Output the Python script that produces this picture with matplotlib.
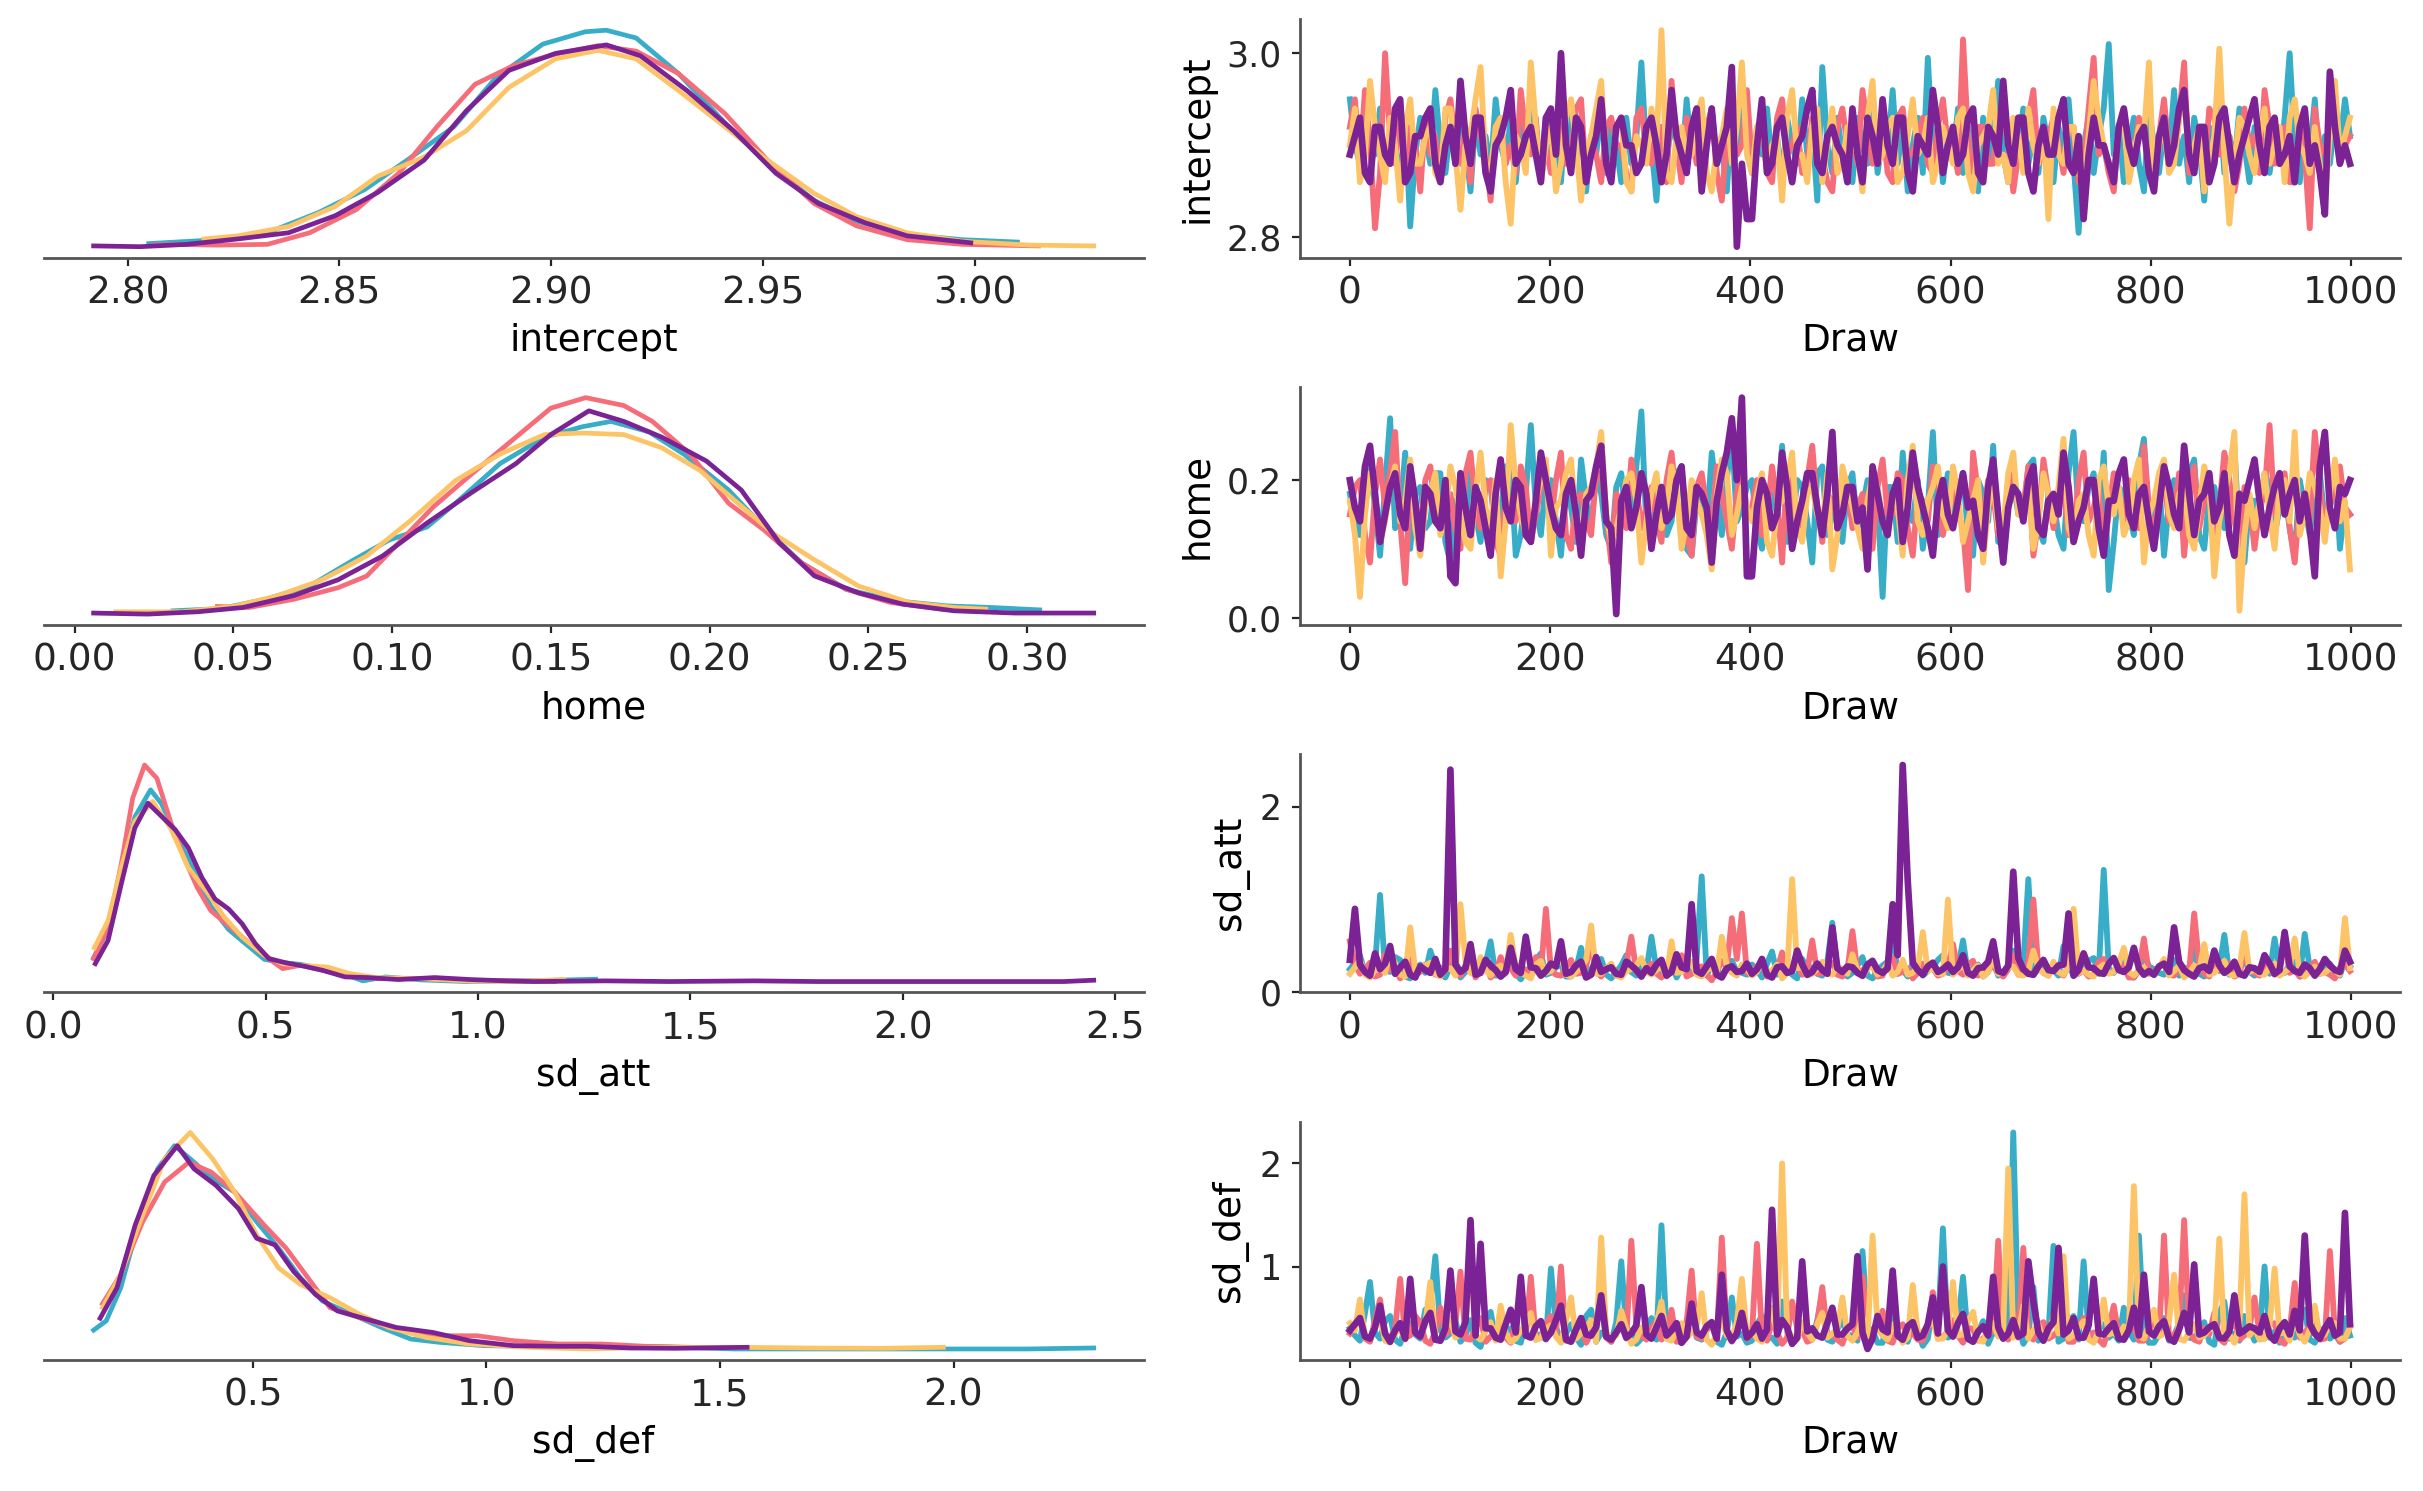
import numpy as np
import matplotlib.pyplot as plt
from matplotlib.ticker import MaxNLocator

# chain colours (chain 0..3)
chain_colors = ["#38adc8", "#f66d7a", "#fcc466", "#7b2394"]
var_names = ["intercept", "home", "sd_att", "sd_def"]
trace_yticks = [[2.8, 3.0], [0.0, 0.2], [0, 2], [1, 2]]

# ---- KDE curves (x, density) per chain ----
int_kde_x0 = [2.805, 2.821, 2.833, 2.845, 2.856, 2.866, 2.877, 2.887, 2.898, 2.908, 2.913, 2.920, 2.930, 2.941, 2.951, 2.962, 2.972, 2.984, 2.997, 3.010]
int_kde_y0 = [0.2, 0.45, 0.9, 2.2, 3.7, 5.6, 7.75, 10.95, 13.1, 13.9, 14.0, 13.5, 11.2, 8.0, 5.4, 3.0, 1.65, 0.8, 0.45, 0.3]
int_kde_x1 = [2.806, 2.812, 2.821, 2.833, 2.843, 2.854, 2.864, 2.873, 2.882, 2.891, 2.901, 2.911, 2.920, 2.930, 2.941, 2.951, 2.962, 2.972, 2.984, 2.997, 3.015]
int_kde_y1 = [0.1, 0.15, 0.1, 0.15, 0.9, 2.4, 4.75, 7.75, 10.5, 11.7, 12.45, 13.0, 12.65, 11.2, 8.6, 5.6, 2.8, 1.35, 0.45, 0.15, 0.05]
int_kde_x2 = [2.818, 2.826, 2.838, 2.849, 2.859, 2.870, 2.880, 2.890, 2.901, 2.911, 2.920, 2.930, 2.941, 2.951, 2.962, 2.972, 2.984, 2.997, 3.013, 3.028]
int_kde_y2 = [0.5, 0.7, 1.3, 2.6, 4.55, 5.8, 7.5, 10.3, 12.15, 12.7, 12.15, 10.1, 7.75, 5.6, 3.45, 1.95, 0.9, 0.35, 0.1, 0.05]
int_kde_x3 = [2.792, 2.803, 2.814, 2.826, 2.838, 2.849, 2.859, 2.870, 2.880, 2.890, 2.901, 2.913, 2.921, 2.932, 2.943, 2.953, 2.963, 2.974, 2.984, 2.999]
int_kde_y3 = [0.05, 0.0, 0.15, 0.5, 0.9, 2.0, 3.5, 5.6, 8.8, 11.4, 12.5, 13.05, 12.35, 10.1, 7.5, 4.75, 2.8, 1.55, 0.7, 0.25]

home_kde_x0 = [0.031, 0.046, 0.060, 0.074, 0.088, 0.099, 0.111, 0.120, 0.134, 0.148, 0.160, 0.169, 0.181, 0.192, 0.206, 0.217, 0.229, 0.243, 0.259, 0.275, 0.289, 0.304]
home_kde_y0 = [0.125, 0.21, 0.56, 1.06, 2.06, 2.8, 3.3, 4.2, 5.7, 6.7, 7.1, 7.3, 6.9, 6.05, 4.7, 3.3, 1.94, 0.94, 0.5, 0.31, 0.25, 0.16]
home_kde_x1 = [0.045, 0.055, 0.069, 0.083, 0.092, 0.101, 0.113, 0.125, 0.139, 0.150, 0.161, 0.173, 0.182, 0.194, 0.206, 0.217, 0.229, 0.243, 0.257, 0.273, 0.287]
home_kde_y1 = [0.29, 0.25, 0.56, 1.0, 1.44, 2.56, 4.06, 5.3, 6.7, 7.8, 8.2, 7.9, 7.3, 6.05, 4.2, 3.2, 1.94, 0.94, 0.44, 0.19, 0.09]
home_kde_x2 = [0.013, 0.034, 0.050, 0.064, 0.078, 0.092, 0.106, 0.120, 0.134, 0.148, 0.160, 0.173, 0.185, 0.197, 0.208, 0.220, 0.233, 0.247, 0.263, 0.277, 0.287]
home_kde_y2 = [0.09, 0.09, 0.29, 0.7, 1.3, 2.2, 3.56, 5.06, 6.06, 6.8, 6.86, 6.8, 6.3, 5.44, 4.3, 3.06, 2.06, 1.06, 0.44, 0.25, 0.19]
home_kde_x3 = [0.006, 0.023, 0.039, 0.053, 0.069, 0.083, 0.097, 0.111, 0.125, 0.139, 0.150, 0.162, 0.173, 0.185, 0.199, 0.210, 0.222, 0.233, 0.247, 0.261, 0.277, 0.296, 0.321]
home_kde_y3 = [0.04, 0.0, 0.09, 0.25, 0.7, 1.3, 2.2, 3.45, 4.6, 5.7, 6.8, 7.7, 7.3, 6.7, 5.8, 4.7, 2.7, 1.45, 0.8, 0.375, 0.125, 0.04, 0.04]

att_kde_x0 = [0.095, 0.129, 0.160, 0.192, 0.229, 0.255, 0.287, 0.329, 0.371, 0.413, 0.455, 0.497, 0.540, 0.582, 0.634, 0.687, 0.729, 0.782, 0.866, 0.972, 1.077, 1.180, 1.277]
att_kde_y0 = [0.75, 1.6, 3.3, 5.0, 5.82, 5.4, 4.5, 3.5, 2.3, 1.6, 1.15, 0.7, 0.6, 0.55, 0.42, 0.25, 0.05, 0.17, 0.08, 0.03, 0.05, 0.07, 0.1]
att_kde_x1 = [0.095, 0.129, 0.160, 0.187, 0.215, 0.244, 0.276, 0.308, 0.339, 0.371, 0.413, 0.455, 0.497, 0.540, 0.582, 0.634, 0.687, 0.761, 0.866, 0.972, 1.077, 1.180]
att_kde_y1 = [0.72, 1.67, 3.57, 5.57, 6.57, 6.17, 4.87, 3.77, 2.87, 2.17, 1.72, 1.27, 0.82, 0.42, 0.52, 0.37, 0.22, 0.12, 0.12, 0.07, 0.05, 0.03]
att_kde_x2 = [0.097, 0.129, 0.160, 0.192, 0.234, 0.276, 0.318, 0.360, 0.403, 0.445, 0.497, 0.540, 0.582, 0.645, 0.698, 0.761, 0.866, 0.972, 1.077, 1.203]
att_kde_y2 = [1.05, 1.87, 3.47, 4.87, 5.47, 4.67, 3.47, 2.77, 1.97, 1.37, 0.82, 0.57, 0.52, 0.47, 0.27, 0.15, 0.12, 0.05, 0.03, 0.09]
att_kde_x3 = [0.099, 0.129, 0.160, 0.192, 0.223, 0.255, 0.287, 0.318, 0.350, 0.381, 0.413, 0.445, 0.476, 0.508, 0.550, 0.592, 0.634, 0.687, 0.740, 0.813, 0.898, 0.982, 1.066, 1.130, 1.30, 1.45, 1.65, 1.80, 2.00, 2.20, 2.38, 2.45]
att_kde_y3 = [0.57, 1.27, 2.97, 4.67, 5.42, 5.02, 4.62, 4.07, 3.17, 2.52, 2.22, 1.77, 1.17, 0.72, 0.59, 0.49, 0.37, 0.17, 0.15, 0.09, 0.15, 0.09, 0.05, 0.03, 0.05, 0.03, 0.05, 0.03, 0.03, 0.03, 0.03, 0.07]

def_kde_x0 = [0.159, 0.186, 0.217, 0.256, 0.296, 0.332, 0.366, 0.414, 0.461, 0.508, 0.555, 0.602, 0.649, 0.712, 0.775, 0.838, 0.900, 0.995, 1.090, 1.215, 1.370, 1.530, 1.770, 2.000, 2.160, 2.300]
def_kde_y0 = [0.285, 0.425, 0.925, 1.925, 2.725, 3.075, 2.875, 2.575, 2.375, 1.925, 1.525, 1.075, 0.725, 0.525, 0.325, 0.15, 0.1, 0.05, 0.04, 0.025, 0.035, 0.0, 0.0, 0.0, 0.0, 0.015]
def_kde_x1 = [0.178, 0.217, 0.264, 0.311, 0.363, 0.411, 0.461, 0.524, 0.571, 0.618, 0.665, 0.728, 0.807, 0.900, 0.980, 1.058, 1.153, 1.247, 1.342, 1.436]
def_kde_y1 = [0.685, 1.125, 1.925, 2.525, 2.825, 2.675, 2.375, 1.875, 1.525, 1.075, 0.625, 0.475, 0.3, 0.2, 0.2, 0.125, 0.075, 0.075, 0.04, 0.025]
def_kde_x2 = [0.178, 0.217, 0.264, 0.311, 0.366, 0.414, 0.461, 0.508, 0.555, 0.602, 0.665, 0.728, 0.791, 0.870, 0.964, 1.090, 1.215, 1.373, 1.530, 1.687, 1.845, 1.978]
def_kde_y2 = [0.625, 1.125, 2.025, 2.875, 3.275, 2.875, 2.375, 1.725, 1.225, 0.975, 0.775, 0.525, 0.325, 0.175, 0.075, 0.025, 0.0, 0.025, 0.025, 0.015, 0.01, 0.025]
def_kde_x3 = [0.173, 0.209, 0.248, 0.288, 0.338, 0.374, 0.421, 0.469, 0.508, 0.547, 0.587, 0.634, 0.681, 0.744, 0.807, 0.885, 0.964, 1.058, 1.153, 1.216, 1.310, 1.404, 1.558]
def_kde_y3 = [0.465, 0.925, 1.875, 2.625, 3.075, 2.725, 2.475, 2.125, 1.675, 1.575, 1.175, 0.825, 0.575, 0.45, 0.325, 0.25, 0.125, 0.05, 0.04, 0.04, 0.015, 0.01, 0.025]

# ---- traces, 200 values per chain across 1000 draws ----
int_trace0 = [
    2.95, 2.90, 2.88, 2.93, 2.91, 2.89, 2.94, 2.87, 2.92, 2.90, 2.86, 2.93, 2.812, 2.89, 2.93, 2.91, 2.88, 2.96, 2.90, 2.87,
    2.92, 2.88, 2.94, 2.90, 2.85, 2.93, 2.89, 2.91, 2.87, 2.95, 2.90, 2.88, 2.93, 2.86, 2.92, 2.89, 2.96, 2.91, 2.87, 2.93,
    2.89, 2.92, 2.86, 2.94, 2.90, 2.88, 2.93, 2.85, 2.91, 2.89, 2.94, 2.87, 2.92, 2.90, 2.86, 2.93, 2.88, 2.91, 2.99, 2.89,
    2.90, 2.84, 2.92, 2.88, 2.93, 2.90, 2.87, 2.95, 2.89, 2.92, 2.86, 2.91, 2.94, 2.88, 2.90, 2.85, 2.93, 2.89, 2.96, 2.90,
    2.87, 2.92, 2.89, 2.94, 2.88, 2.91, 2.86, 2.93, 2.90, 2.88, 2.95, 2.89, 2.92, 2.84, 2.985, 2.90, 2.87, 2.93, 2.89, 2.91,
    2.86, 2.93, 2.90, 2.88, 2.94, 2.87, 2.91, 2.89, 2.96, 2.88, 2.92, 2.85, 2.90, 2.93, 2.87, 2.995, 2.89, 2.92, 2.86, 2.91,
    2.89, 2.94, 2.87, 2.92, 2.90, 2.85, 2.93, 2.88, 2.91, 2.97, 2.89, 2.86, 2.92, 2.90, 2.94, 2.88, 2.91, 2.87, 2.93, 2.90,
    2.86, 2.92, 2.89, 2.95, 2.88, 2.805, 2.90, 2.93, 2.87, 2.91, 2.94, 3.01, 2.89, 2.92, 2.86, 2.90, 2.93, 2.88, 2.85, 2.94,
    2.90, 2.87, 2.92, 2.89, 2.96, 2.88, 2.91, 2.86, 2.93, 2.90, 2.84, 2.92, 2.89, 2.95, 2.87, 2.91, 2.88, 2.94, 2.90, 2.86,
    2.92, 2.89, 2.94, 2.87, 2.91, 2.88, 2.93, 3.00, 2.90, 2.86, 2.92, 2.89, 2.95, 2.87, 2.91, 2.88, 2.93, 2.90, 2.95, 2.91]
int_trace1 = [
    2.92, 2.95, 2.88, 2.96, 2.90, 2.81, 2.87, 3.00, 2.91, 2.88, 2.94, 2.87, 2.92, 2.90, 2.85, 2.93, 2.89, 2.91, 2.86, 2.93,
    2.95, 2.90, 2.88, 2.92, 2.86, 2.94, 2.91, 2.89, 2.84, 2.92, 2.93, 2.88, 2.90, 2.87, 2.96, 2.91, 2.89, 2.93, 2.86, 2.90,
    2.87, 2.93, 2.92, 2.88, 2.89, 2.94, 2.95, 2.86, 2.91, 2.89, 2.86, 2.92, 2.93, 2.90, 2.90, 2.87, 2.85, 2.93, 2.94, 2.89,
    2.88, 2.92, 2.92, 2.86, 2.97, 2.90, 2.86, 2.93, 2.91, 2.88, 2.89, 2.92, 2.94, 2.87, 2.84, 2.91, 2.93, 2.89, 2.90, 2.96,
    2.88, 2.91, 2.92, 2.87, 2.86, 2.93, 2.95, 2.89, 2.90, 2.92, 2.87, 2.88, 2.93, 2.91, 2.89, 2.86, 2.85, 2.92, 2.94, 2.90,
    2.91, 2.88, 2.96, 2.92, 2.88, 2.90, 2.92, 2.87, 2.86, 2.93, 2.94, 2.89, 2.89, 2.91, 2.93, 2.88, 2.87, 2.92, 2.95, 2.90,
    2.90, 2.87, 3.015, 2.91, 2.86, 2.92, 2.92, 2.88, 2.88, 2.93, 2.94, 2.90, 2.85, 2.89, 2.91, 2.93, 2.96, 2.88, 2.89, 2.91,
    2.93, 2.90, 2.87, 2.92, 2.92, 2.86, 2.88, 2.94, 2.995, 2.89, 2.90, 2.87, 2.85, 2.92, 2.94, 2.90, 2.89, 2.93, 2.92, 2.88,
    2.86, 2.91, 2.95, 2.89, 2.88, 2.93, 2.99, 2.87, 2.90, 2.92, 2.87, 2.94, 2.93, 2.89, 2.89, 2.91, 2.85, 2.88, 2.94, 2.90,
    2.91, 2.87, 2.96, 2.92, 2.88, 2.90, 2.92, 2.86, 2.86, 2.93, 2.89, 2.81, 2.94, 2.90, 2.89, 2.92, 2.93, 2.88, 2.90, 2.91]
int_trace2 = [
    2.90, 2.94, 2.86, 2.89, 2.97, 2.92, 2.89, 2.86, 2.93, 2.90, 2.84, 2.92, 2.95, 2.88, 2.88, 2.91, 2.92, 2.87, 2.86, 2.94,
    2.94, 2.89, 2.83, 2.90, 2.91, 2.95, 2.985, 2.88, 2.87, 2.92, 2.93, 2.86, 2.815, 2.91, 2.90, 2.87, 2.99, 2.92, 2.86, 2.90,
    2.92, 2.85, 2.88, 2.93, 2.95, 2.90, 2.84, 2.89, 2.91, 2.94, 2.97, 2.88, 2.87, 2.92, 2.93, 2.86, 2.85, 2.91, 2.90, 2.88,
    2.94, 2.90, 3.025, 2.87, 2.86, 2.91, 2.92, 2.89, 2.89, 2.93, 2.95, 2.87, 2.85, 2.90, 2.91, 2.94, 2.88, 2.92, 2.99, 2.89,
    2.87, 2.92, 2.93, 2.88, 2.90, 2.91, 2.84, 2.93, 2.96, 2.89, 2.89, 2.86, 2.92, 2.94, 2.86, 2.90, 2.94, 2.87, 2.88, 2.92,
    2.91, 2.89, 2.85, 2.93, 2.97, 2.88, 2.89, 2.92, 2.93, 2.86, 2.87, 2.91, 2.95, 2.89, 2.90, 2.93, 2.86, 2.88, 2.92, 2.90,
    2.88, 2.93, 2.94, 2.87, 2.85, 2.90, 2.91, 2.92, 2.96, 2.88, 2.89, 2.86, 2.93, 2.91, 2.87, 2.94, 2.90, 2.88, 2.92, 2.82,
    2.94, 2.89, 2.88, 2.92, 2.92, 2.87, 2.86, 2.91, 2.97, 2.93, 2.90, 2.88, 2.87, 2.92, 2.93, 2.86, 2.89, 2.92, 2.91, 2.99,
    2.86, 2.90, 2.92, 2.87, 2.88, 2.93, 2.95, 2.89, 2.90, 2.92, 2.85, 2.88, 2.91, 3.005, 2.89, 2.815, 2.88, 2.93, 2.92, 2.89,
    2.87, 2.91, 2.94, 2.88, 2.90, 2.92, 2.86, 2.93, 2.95, 2.90, 2.89, 2.87, 2.92, 2.88, 2.84, 2.91, 2.97, 2.89, 2.91, 2.93]
int_trace3 = [
    2.89, 2.91, 2.93, 2.87, 2.86, 2.92, 2.92, 2.89, 2.88, 2.94, 2.95, 2.86, 2.87, 2.91, 2.91, 2.93, 2.94, 2.88, 2.86, 2.90,
    2.92, 2.88, 2.97, 2.91, 2.88, 2.93, 2.93, 2.87, 2.85, 2.90, 2.91, 2.93, 2.96, 2.88, 2.89, 2.91, 2.92, 2.89, 2.86, 2.93,
    2.94, 2.89, 3.00, 2.90, 2.87, 2.93, 2.92, 2.86, 2.89, 2.91, 2.95, 2.88, 2.86, 2.92, 2.93, 2.90, 2.90, 2.87, 2.88, 2.92,
    2.93, 2.90, 2.86, 2.89, 2.96, 2.91, 2.89, 2.87, 2.92, 2.94, 2.85, 2.90, 2.94, 2.88, 2.90, 2.92, 2.985, 2.79, 2.88, 2.82,
    2.82, 2.90, 2.95, 2.87, 2.88, 2.92, 2.93, 2.89, 2.86, 2.90, 2.91, 2.94, 2.96, 2.88, 2.87, 2.91, 2.92, 2.90, 2.89, 2.86,
    2.94, 2.89, 2.86, 2.93, 2.91, 2.88, 2.95, 2.90, 2.88, 2.93, 2.93, 2.87, 2.85, 2.91, 2.90, 2.89, 2.96, 2.92, 2.87, 2.90,
    2.92, 2.88, 2.89, 2.93, 2.94, 2.87, 2.86, 2.92, 2.91, 2.89, 2.97, 2.90, 2.88, 2.93, 2.93, 2.87, 2.85, 2.90, 2.92, 2.89,
    2.89, 2.93, 2.95, 2.88, 2.87, 2.91, 2.82, 2.89, 2.93, 2.90, 2.90, 2.88, 2.86, 2.92, 2.94, 2.90, 2.88, 2.91, 2.92, 2.87,
    2.85, 2.91, 2.93, 2.88, 2.90, 2.94, 2.96, 2.89, 2.87, 2.92, 2.92, 2.86, 2.88, 2.93, 2.94, 2.90, 2.86, 2.89, 2.91, 2.93,
    2.95, 2.90, 2.87, 2.92, 2.93, 2.88, 2.89, 2.91, 2.86, 2.92, 2.94, 2.88, 2.90, 2.87, 2.825, 2.98, 2.92, 2.88, 2.90, 2.88]

home_trace0 = [
    0.18, 0.14, 0.12, 0.20, 0.22, 0.16, 0.09, 0.19, 0.29, 0.13, 0.15, 0.24, 0.10, 0.18, 0.19, 0.13, 0.14, 0.21, 0.21, 0.11,
    0.08, 0.17, 0.17, 0.12, 0.23, 0.15, 0.11, 0.20, 0.19, 0.13, 0.15, 0.22, 0.22, 0.09, 0.12, 0.18, 0.28, 0.16, 0.12, 0.20,
    0.20, 0.14, 0.09, 0.19, 0.16, 0.11, 0.23, 0.17, 0.13, 0.21, 0.18, 0.12, 0.10, 0.19, 0.21, 0.14, 0.15, 0.22, 0.30, 0.13,
    0.11, 0.18, 0.19, 0.12, 0.14, 0.21, 0.22, 0.10, 0.09, 0.17, 0.17, 0.13, 0.24, 0.18, 0.12, 0.20, 0.27, 0.14, 0.16, 0.19,
    0.20, 0.13, 0.10, 0.18, 0.18, 0.15, 0.25, 0.11, 0.13, 0.20, 0.19, 0.14, 0.08, 0.21, 0.22, 0.12, 0.15, 0.17, 0.11, 0.19,
    0.21, 0.13, 0.16, 0.20, 0.12, 0.17, 0.03, 0.19, 0.19, 0.11, 0.24, 0.15, 0.14, 0.20, 0.10, 0.16, 0.27, 0.12, 0.17, 0.21,
    0.13, 0.18, 0.21, 0.12, 0.09, 0.20, 0.18, 0.14, 0.25, 0.11, 0.12, 0.19, 0.20, 0.15, 0.15, 0.22, 0.23, 0.13, 0.11, 0.18,
    0.17, 0.12, 0.10, 0.21, 0.27, 0.15, 0.14, 0.19, 0.21, 0.13, 0.24, 0.04, 0.11, 0.19, 0.18, 0.15, 0.12, 0.22, 0.26, 0.14,
    0.15, 0.20, 0.09, 0.17, 0.20, 0.13, 0.14, 0.21, 0.23, 0.12, 0.10, 0.18, 0.19, 0.15, 0.13, 0.22, 0.25, 0.11, 0.08, 0.17,
    0.17, 0.14, 0.21, 0.19, 0.12, 0.16, 0.18, 0.13, 0.09, 0.20, 0.16, 0.12, 0.18, 0.21, 0.14, 0.17, 0.22, 0.10, 0.16, 0.15]
home_trace1 = [
    0.15, 0.19, 0.20, 0.12, 0.08, 0.18, 0.23, 0.16, 0.21, 0.27, 0.14, 0.05, 0.19, 0.17, 0.12, 0.20, 0.22, 0.15, 0.14, 0.18,
    0.18, 0.13, 0.10, 0.21, 0.24, 0.16, 0.13, 0.19, 0.20, 0.11, 0.09, 0.18, 0.17, 0.14, 0.22, 0.19, 0.11, 0.15, 0.19, 0.21,
    0.14, 0.20, 0.24, 0.12, 0.10, 0.17, 0.18, 0.14, 0.12, 0.21, 0.21, 0.15, 0.08, 0.18, 0.17, 0.13, 0.23, 0.19, 0.13, 0.16,
    0.19, 0.14, 0.11, 0.20, 0.24, 0.17, 0.15, 0.12, 0.09, 0.19, 0.21, 0.16, 0.13, 0.22, 0.18, 0.14, 0.10, 0.18, 0.23, 0.15,
    0.16, 0.20, 0.12, 0.15, 0.22, 0.17, 0.08, 0.21, 0.19, 0.13, 0.14, 0.20, 0.25, 0.16, 0.11, 0.18, 0.17, 0.14, 0.21, 0.19,
    0.13, 0.16, 0.18, 0.12, 0.10, 0.19, 0.23, 0.15, 0.15, 0.21, 0.20, 0.13, 0.09, 0.18, 0.17, 0.14, 0.22, 0.20, 0.12, 0.16,
    0.19, 0.15, 0.13, 0.04, 0.24, 0.18, 0.14, 0.20, 0.18, 0.12, 0.11, 0.19, 0.21, 0.16, 0.16, 0.22, 0.09, 0.14, 0.23, 0.18,
    0.13, 0.17, 0.19, 0.12, 0.12, 0.20, 0.24, 0.14, 0.16, 0.19, 0.10, 0.15, 0.21, 0.17, 0.14, 0.20, 0.18, 0.13, 0.25, 0.16,
    0.11, 0.18, 0.20, 0.14, 0.15, 0.21, 0.09, 0.17, 0.22, 0.13, 0.17, 0.19, 0.12, 0.16, 0.24, 0.20, 0.14, 0.11, 0.19, 0.17,
    0.10, 0.16, 0.18, 0.28, 0.15, 0.20, 0.21, 0.13, 0.08, 0.17, 0.18, 0.14, 0.27, 0.19, 0.13, 0.16, 0.19, 0.22, 0.16, 0.15]
home_trace2 = [
    0.17, 0.12, 0.03, 0.15, 0.21, 0.18, 0.11, 0.14, 0.19, 0.22, 0.14, 0.17, 0.23, 0.13, 0.09, 0.16, 0.18, 0.21, 0.12, 0.15,
    0.22, 0.19, 0.15, 0.11, 0.10, 0.18, 0.24, 0.16, 0.13, 0.20, 0.06, 0.14, 0.28, 0.19, 0.15, 0.12, 0.11, 0.17, 0.20, 0.23,
    0.09, 0.16, 0.17, 0.21, 0.23, 0.14, 0.12, 0.18, 0.19, 0.22, 0.27, 0.15, 0.11, 0.13, 0.16, 0.20, 0.21, 0.17, 0.08, 0.14,
    0.18, 0.21, 0.13, 0.16, 0.22, 0.19, 0.10, 0.14, 0.20, 0.17, 0.15, 0.12, 0.07, 0.18, 0.23, 0.21, 0.12, 0.15, 0.19, 0.16,
    0.14, 0.18, 0.21, 0.11, 0.09, 0.16, 0.17, 0.20, 0.24, 0.13, 0.11, 0.18, 0.19, 0.15, 0.13, 0.21, 0.07, 0.12, 0.22, 0.19,
    0.16, 0.13, 0.10, 0.17, 0.21, 0.19, 0.14, 0.12, 0.18, 0.16, 0.09, 0.20, 0.25, 0.14, 0.12, 0.17, 0.19, 0.22, 0.15, 0.13,
    0.22, 0.18, 0.11, 0.14, 0.17, 0.20, 0.08, 0.16, 0.20, 0.13, 0.13, 0.21, 0.24, 0.15, 0.16, 0.19, 0.10, 0.14, 0.21, 0.18,
    0.14, 0.19, 0.26, 0.13, 0.11, 0.17, 0.18, 0.12, 0.09, 0.20, 0.22, 0.16, 0.15, 0.19, 0.12, 0.14, 0.20, 0.23, 0.08, 0.15,
    0.17, 0.21, 0.23, 0.15, 0.13, 0.18, 0.19, 0.12, 0.10, 0.16, 0.22, 0.19, 0.06, 0.14, 0.18, 0.21, 0.27, 0.01, 0.12, 0.18,
    0.13, 0.17, 0.21, 0.15, 0.10, 0.19, 0.20, 0.14, 0.27, 0.12, 0.15, 0.21, 0.19, 0.16, 0.11, 0.18, 0.23, 0.14, 0.17, 0.07]
home_trace3 = [
    0.20, 0.16, 0.14, 0.22, 0.25, 0.18, 0.11, 0.15, 0.19, 0.21, 0.15, 0.13, 0.22, 0.17, 0.10, 0.19, 0.18, 0.14, 0.13, 0.20,
    0.06, 0.05, 0.21, 0.16, 0.12, 0.19, 0.17, 0.13, 0.09, 0.18, 0.23, 0.16, 0.14, 0.20, 0.19, 0.12, 0.11, 0.17, 0.24, 0.20,
    0.16, 0.13, 0.12, 0.18, 0.20, 0.15, 0.09, 0.17, 0.18, 0.22, 0.25, 0.14, 0.13, 0.005, 0.17, 0.19, 0.13, 0.16, 0.21, 0.18,
    0.10, 0.15, 0.19, 0.14, 0.15, 0.20, 0.22, 0.13, 0.12, 0.19, 0.18, 0.16, 0.08, 0.17, 0.21, 0.24, 0.29, 0.20, 0.32, 0.06,
    0.06, 0.16, 0.20, 0.18, 0.13, 0.15, 0.24, 0.19, 0.10, 0.14, 0.17, 0.21, 0.21, 0.16, 0.12, 0.18, 0.27, 0.13, 0.15, 0.19,
    0.19, 0.14, 0.16, 0.07, 0.22, 0.18, 0.14, 0.12, 0.18, 0.20, 0.11, 0.16, 0.24, 0.19, 0.16, 0.13, 0.09, 0.17, 0.20, 0.15,
    0.13, 0.17, 0.21, 0.16, 0.17, 0.12, 0.10, 0.19, 0.23, 0.15, 0.08, 0.16, 0.19, 0.18, 0.14, 0.20, 0.22, 0.13, 0.12, 0.17,
    0.18, 0.15, 0.24, 0.19, 0.11, 0.14, 0.16, 0.20, 0.20, 0.13, 0.09, 0.17, 0.17, 0.21, 0.23, 0.15, 0.13, 0.18, 0.19, 0.14,
    0.10, 0.16, 0.22, 0.19, 0.15, 0.13, 0.25, 0.18, 0.12, 0.17, 0.18, 0.21, 0.14, 0.16, 0.21, 0.12, 0.09, 0.18, 0.17, 0.20,
    0.23, 0.17, 0.12, 0.16, 0.19, 0.21, 0.15, 0.18, 0.20, 0.14, 0.18, 0.13, 0.06, 0.22, 0.27, 0.16, 0.13, 0.19, 0.18, 0.20]

att_trace0 = [
    0.25, 0.32, 0.40, 0.21, 0.18, 0.29, 1.05, 0.24, 0.22, 0.38, 0.35, 0.17, 0.15, 0.26, 0.30, 0.21, 0.45, 0.28, 0.20, 0.16,
    0.28, 0.34, 0.16, 0.22, 0.38, 0.19, 0.24, 0.31, 0.55, 0.18, 0.19, 0.26, 0.32, 0.20, 0.14, 0.23, 0.27, 0.35, 0.42, 0.19,
    0.21, 0.27, 0.30, 0.17, 0.17, 0.25, 0.48, 0.21, 0.25, 0.33, 0.36, 0.19, 0.15, 0.22, 0.29, 0.40, 0.22, 0.18, 0.28, 0.23,
    0.60, 0.24, 0.18, 0.29, 0.33, 0.16, 0.26, 0.21, 0.20, 0.37, 1.25, 0.18, 0.30, 0.25, 0.17, 0.28, 0.34, 0.22, 0.21, 0.19,
    0.30, 0.24, 0.16, 0.31, 0.44, 0.19, 0.23, 0.28, 0.19, 0.15, 0.36, 0.25, 0.27, 0.20, 0.18, 0.33, 0.75, 0.22, 0.25, 0.17,
    0.21, 0.29, 0.38, 0.18, 0.15, 0.24, 0.29, 0.33, 0.62, 0.20, 0.24, 0.17, 0.32, 0.27, 0.18, 0.23, 0.27, 0.35, 0.40, 0.21,
    0.20, 0.26, 0.56, 0.19, 0.26, 0.30, 0.17, 0.22, 0.35, 0.18, 0.22, 0.28, 0.45, 0.21, 0.30, 1.22, 0.19, 0.25, 0.31, 0.23,
    0.24, 0.18, 0.50, 0.29, 0.18, 0.22, 0.28, 0.34, 0.37, 0.20, 1.32, 0.26, 0.21, 0.30, 0.33, 0.17, 0.16, 0.24, 0.42, 0.28,
    0.25, 0.21, 0.19, 0.30, 0.35, 0.18, 0.22, 0.27, 0.48, 0.20, 0.17, 0.23, 0.30, 0.26, 0.62, 0.19, 0.24, 0.31, 0.36, 0.22,
    0.18, 0.25, 0.28, 0.20, 0.58, 0.24, 0.21, 0.30, 0.33, 0.17, 0.63, 0.26, 0.19, 0.22, 0.27, 0.31, 0.22, 0.18, 0.35, 0.28]
att_trace1 = [
    0.55, 0.30, 0.20, 0.24, 0.32, 0.17, 0.19, 0.41, 0.24, 0.28, 0.15, 0.22, 0.36, 0.19, 0.22, 0.30, 0.26, 0.19, 0.27, 0.23,
    0.45, 0.20, 0.18, 0.29, 0.33, 0.16, 0.23, 0.34, 0.16, 0.21, 0.38, 0.25, 0.26, 0.18, 0.30, 0.22, 0.24, 0.38, 0.21, 0.90,
    0.24, 0.19, 0.18, 0.27, 0.35, 0.20, 0.21, 0.28, 0.52, 0.23, 0.17, 0.26, 0.29, 0.18, 0.23, 0.31, 0.60, 0.22, 0.19, 0.25,
    0.31, 0.20, 0.16, 0.24, 0.25, 0.35, 0.40, 0.17, 0.20, 0.26, 0.28, 0.19, 0.13, 0.22, 0.34, 0.27, 0.80, 0.36, 0.85, 0.21,
    0.22, 0.28, 0.30, 0.17, 0.18, 0.24, 0.43, 0.21, 0.25, 0.30, 0.19, 0.23, 0.56, 0.20, 0.21, 0.27, 0.32, 0.19, 0.17, 0.24,
    0.66, 0.22, 0.24, 0.28, 0.29, 0.17, 0.18, 0.33, 0.37, 0.20, 0.22, 0.26, 0.15, 0.21, 0.31, 0.24, 0.26, 0.18, 0.20, 0.28,
    0.52, 0.23, 0.19, 0.30, 0.34, 0.18, 0.23, 0.27, 0.28, 0.21, 0.17, 0.25, 0.40, 0.19, 0.25, 0.31, 1.00, 0.26, 0.21, 0.18,
    0.30, 0.22, 0.18, 0.29, 0.44, 0.20, 0.24, 0.17, 0.19, 0.33, 0.36, 0.21, 0.22, 0.27, 0.29, 0.16, 0.16, 0.24, 0.58, 0.20,
    0.23, 0.27, 0.31, 0.19, 0.18, 0.25, 0.27, 0.22, 0.85, 0.30, 0.20, 0.17, 0.35, 0.23, 0.24, 0.31, 0.17, 0.20, 0.42, 0.26,
    0.21, 0.18, 0.28, 0.24, 0.19, 0.30, 0.55, 0.21, 0.24, 0.17, 0.18, 0.26, 0.33, 0.20, 0.22, 0.19, 0.15, 0.27, 0.30, 0.23]
att_trace2 = [
    0.20, 0.27, 0.35, 0.19, 0.16, 0.24, 0.28, 0.21, 0.45, 0.30, 0.19, 0.17, 0.70, 0.23, 0.24, 0.29, 0.32, 0.20, 0.17, 0.25,
    0.26, 0.18, 0.95, 0.33, 0.21, 0.19, 0.38, 0.24, 0.18, 0.26, 0.29, 0.20, 0.62, 0.27, 0.22, 0.18, 0.15, 0.30, 0.34, 0.21,
    0.23, 0.31, 0.40, 0.19, 0.17, 0.22, 0.27, 0.35, 0.72, 0.20, 0.20, 0.26, 0.31, 0.18, 0.16, 0.23, 0.25, 0.29, 0.37, 0.22,
    0.19, 0.24, 0.28, 0.17, 0.55, 0.21, 0.22, 0.30, 0.33, 0.19, 0.17, 0.24, 0.26, 0.20, 0.60, 0.28, 0.21, 0.18, 0.30, 0.25,
    0.18, 0.22, 0.36, 0.19, 0.24, 0.30, 0.15, 0.21, 1.22, 0.26, 0.27, 0.18, 0.20, 0.25, 0.33, 0.21, 0.19, 0.28, 0.25, 0.20,
    0.41, 0.23, 0.17, 0.26, 0.29, 0.19, 0.23, 0.31, 0.18, 0.22, 0.35, 0.19, 0.21, 0.27, 0.65, 0.23, 0.26, 0.20, 0.20, 1.00,
    0.19, 0.25, 0.31, 0.18, 0.24, 0.29, 0.17, 0.22, 0.38, 0.20, 0.22, 0.27, 0.28, 0.19, 0.18, 0.23, 0.45, 0.26, 0.21, 0.18,
    0.33, 0.22, 0.19, 0.28, 0.90, 0.21, 0.24, 0.19, 0.17, 0.26, 0.30, 0.20, 0.22, 0.31, 0.48, 0.22, 0.18, 0.24, 0.27, 0.20,
    0.20, 0.26, 0.36, 0.18, 0.23, 0.29, 0.16, 0.21, 0.29, 0.24, 0.52, 0.19, 0.21, 0.28, 0.34, 0.20, 0.18, 0.25, 0.64, 0.22,
    0.25, 0.20, 0.19, 0.27, 0.31, 0.18, 0.22, 0.26, 0.58, 0.21, 0.17, 0.23, 0.28, 0.20, 0.21, 0.26, 0.24, 0.19, 0.80, 0.26]
att_trace3 = [
    0.35, 0.90, 0.30, 0.22, 0.18, 0.42, 0.25, 0.31, 0.50, 0.20, 0.27, 0.33, 0.19, 0.16, 0.28, 0.24, 0.21, 0.36, 0.19, 0.25,
    2.40, 0.30, 0.22, 0.26, 0.52, 0.19, 0.21, 0.35, 0.29, 0.24, 0.17, 0.22, 0.48, 0.25, 0.21, 0.60, 0.27, 0.26, 0.18, 0.23,
    0.31, 0.28, 0.55, 0.20, 0.22, 0.29, 0.33, 0.16, 0.19, 0.38, 0.22, 0.25, 0.27, 0.20, 0.19, 0.33, 0.29, 0.24, 0.17, 0.26,
    0.21, 0.30, 0.35, 0.18, 0.22, 0.41, 0.27, 0.25, 0.95, 0.23, 0.20, 0.28, 0.36, 0.19, 0.16, 0.26, 0.28, 0.22, 0.23, 0.31,
    0.20, 0.25, 0.36, 0.19, 0.16, 0.27, 0.28, 0.21, 0.23, 0.45, 0.30, 0.19, 0.22, 0.31, 0.24, 0.20, 0.70, 0.26, 0.22, 0.28,
    0.27, 0.21, 0.18, 0.30, 0.34, 0.24, 0.21, 0.26, 0.95, 0.40, 2.45, 1.20, 0.32, 0.24, 0.19, 0.28, 0.32, 0.22, 0.25, 0.30,
    0.22, 0.27, 0.40, 0.21, 0.18, 0.26, 0.27, 0.33, 0.55, 0.23, 0.21, 0.29, 1.30, 0.37, 0.25, 0.20, 0.19, 0.28, 0.35, 0.24,
    0.23, 0.29, 0.30, 0.85, 0.18, 0.24, 0.42, 0.27, 0.26, 0.21, 0.20, 0.31, 0.37, 0.24, 0.22, 0.27, 0.48, 0.26, 0.19, 0.23,
    0.19, 0.28, 0.31, 0.22, 0.70, 0.33, 0.24, 0.20, 0.17, 0.26, 0.28, 0.23, 0.45, 0.29, 0.21, 0.25, 0.33, 0.20, 0.18, 0.27,
    0.26, 0.22, 0.40, 0.31, 0.20, 0.24, 0.65, 0.28, 0.23, 0.21, 0.30, 0.26, 0.18, 0.25, 0.36, 0.29, 0.24, 0.22, 0.45, 0.33]

def_trace0 = [
    0.40, 0.33, 0.28, 0.55, 0.85, 0.36, 0.30, 0.47, 0.52, 0.29, 0.25, 0.41, 0.45, 0.34, 0.30, 0.58, 0.62, 1.10, 0.38, 0.31,
    0.35, 0.48, 0.27, 0.33, 0.48, 0.26, 0.22, 0.40, 0.56, 0.30, 0.31, 0.37, 0.40, 0.28, 0.26, 0.45, 0.68, 0.33, 0.34, 0.29,
    0.98, 0.41, 0.29, 0.35, 0.44, 0.31, 0.24, 0.52, 0.58, 0.27, 0.36, 0.33, 0.27, 0.46, 1.05, 0.38, 0.38, 0.25, 0.30, 0.42,
    0.50, 0.29, 1.40, 0.35, 0.33, 0.28, 0.26, 0.47, 0.60, 0.31, 0.29, 0.40, 0.45, 0.27, 0.24, 0.36, 0.70, 0.32, 0.35, 0.26,
    0.28, 0.44, 0.52, 0.30, 0.31, 0.25, 0.66, 0.37, 0.25, 0.30, 0.42, 0.33, 0.30, 0.48, 0.75, 0.29, 0.27, 0.39, 0.48, 0.34,
    0.33, 0.28, 1.15, 0.41, 0.38, 0.26, 0.26, 0.50, 0.55, 0.32, 0.30, 0.27, 0.44, 0.36, 0.23, 0.30, 0.62, 0.40, 1.37, 0.31,
    0.34, 0.45, 0.90, 0.29, 0.28, 0.36, 0.47, 0.25, 0.36, 0.52, 0.85, 0.30, 2.30, 0.42, 0.25, 0.33, 0.80, 0.28, 0.41, 0.35,
    1.20, 0.27, 0.30, 0.46, 0.52, 0.29, 1.05, 0.34, 0.27, 0.40, 0.44, 0.31, 0.35, 0.28, 0.60, 0.37, 0.29, 1.30, 0.38, 0.26,
    0.26, 0.34, 0.50, 0.28, 0.33, 0.45, 0.72, 0.31, 0.30, 0.38, 0.46, 0.27, 0.24, 0.55, 0.66, 0.30, 0.35, 0.28, 0.52, 0.40,
    0.28, 0.35, 1.00, 0.31, 0.37, 0.26, 0.45, 0.33, 0.31, 0.48, 0.58, 0.29, 0.26, 0.36, 0.41, 0.30, 0.34, 0.27, 0.50, 0.33]
def_trace1 = [
    0.35, 0.42, 0.55, 0.30, 0.27, 0.48, 0.68, 0.33, 0.30, 0.40, 0.88, 0.31, 0.33, 0.52, 0.46, 0.28, 0.25, 0.37, 0.60, 0.34,
    0.38, 0.45, 0.95, 0.30, 0.29, 0.41, 0.50, 0.27, 0.32, 0.36, 0.42, 0.31, 0.26, 0.47, 0.72, 0.33, 0.90, 0.29, 0.31, 0.44,
    0.52, 0.35, 1.00, 0.28, 0.28, 0.39, 0.44, 0.26, 0.35, 0.50, 0.62, 0.31, 0.27, 0.36, 0.48, 0.30, 1.25, 0.42, 0.33, 0.29,
    0.40, 0.47, 0.29, 0.34, 0.58, 0.27, 0.36, 0.45, 0.96, 0.32, 0.30, 0.38, 0.45, 0.29, 1.28, 0.35, 0.27, 0.41, 0.53, 0.30,
    0.34, 1.22, 0.32, 0.28, 0.47, 0.36, 0.25, 0.31, 0.66, 0.40, 0.38, 0.27, 0.29, 0.45, 0.80, 0.33, 0.34, 0.29, 0.25, 0.39,
    0.42, 0.31, 0.90, 0.36, 0.31, 0.48, 0.57, 0.28, 0.26, 0.40, 0.44, 0.33, 0.35, 0.29, 0.28, 0.41, 0.75, 0.30, 0.32, 0.37,
    0.48, 0.33, 0.26, 0.41, 0.39, 0.28, 0.30, 0.36, 0.38, 1.25, 0.34, 0.29, 0.55, 0.31, 1.18, 0.35, 0.29, 0.43, 0.46, 0.30,
    0.33, 0.38, 0.78, 0.27, 0.27, 0.42, 0.50, 0.31, 0.36, 0.29, 0.24, 0.40, 0.62, 0.33, 0.31, 0.37, 0.44, 0.28, 0.28, 0.35,
    0.52, 0.33, 1.30, 0.29, 0.34, 0.41, 1.45, 0.36, 0.29, 0.27, 0.40, 0.34, 0.55, 0.30, 0.26, 0.38, 0.48, 0.29, 0.33, 0.41,
    0.70, 0.35, 0.30, 0.44, 0.45, 0.28, 0.25, 0.37, 0.84, 0.31, 0.36, 0.42, 0.52, 0.29, 0.30, 1.15, 0.36, 0.27, 0.30, 0.42]
def_trace2 = [
    0.45, 0.38, 0.68, 0.31, 0.30, 0.42, 0.52, 0.28, 0.26, 0.35, 0.40, 0.29, 0.75, 0.36, 0.32, 0.44, 0.85, 0.30, 0.28, 0.39,
    0.50, 0.31, 0.34, 0.45, 1.12, 0.33, 0.29, 0.37, 0.46, 0.28, 0.62, 0.35, 0.27, 0.30, 0.38, 0.44, 0.55, 0.29, 0.31, 0.40,
    0.43, 0.32, 0.26, 0.48, 0.70, 0.30, 0.35, 0.41, 0.48, 0.27, 1.28, 0.36, 0.30, 0.33, 0.57, 0.40, 0.25, 0.29, 0.41, 0.35,
    0.33, 0.44, 0.66, 0.30, 0.28, 0.38, 0.45, 0.31, 0.36, 0.42, 0.74, 0.29, 0.24, 0.35, 0.50, 0.33, 0.31, 0.46, 0.88, 0.32,
    0.38, 0.30, 0.27, 0.41, 0.60, 0.34, 2.00, 0.38, 0.32, 0.29, 0.46, 0.36, 0.29, 0.44, 0.55, 0.31, 0.35, 0.40, 0.70, 0.33,
    0.28, 0.36, 0.50, 0.30, 1.30, 0.40, 0.33, 0.29, 0.44, 0.37, 0.26, 0.31, 0.82, 0.35, 0.37, 0.42, 0.48, 0.30, 0.30, 0.38,
    0.85, 0.33, 0.34, 0.47, 0.56, 0.29, 0.27, 0.40, 0.45, 0.32, 0.36, 1.95, 0.31, 0.35, 0.62, 0.30, 0.38, 0.44, 0.29, 0.33,
    0.52, 0.35, 1.10, 0.30, 0.33, 0.41, 0.47, 0.29, 0.26, 0.38, 0.68, 0.34, 0.36, 0.31, 0.42, 0.37, 1.78, 0.33, 0.30, 0.44,
    0.58, 0.32, 0.35, 0.47, 0.92, 0.30, 0.28, 0.36, 0.44, 0.31, 0.33, 0.40, 0.39, 1.27, 0.29, 0.34, 0.26, 0.42, 1.70, 0.33,
    0.40, 0.29, 0.30, 0.43, 0.98, 0.35, 0.36, 0.28, 0.50, 0.34, 0.27, 0.39, 0.62, 0.31, 0.34, 0.45, 0.45, 0.30, 0.30, 0.41]
def_trace3 = [
    0.38, 0.44, 0.50, 0.32, 0.30, 0.41, 0.62, 0.35, 0.27, 0.38, 0.45, 0.30, 0.88, 0.36, 0.32, 0.47, 0.55, 0.29, 0.28, 0.40,
    0.96, 0.37, 0.34, 0.46, 1.45, 0.33, 1.22, 0.40, 0.40, 0.31, 0.29, 0.44, 0.58, 0.36, 0.90, 0.33, 0.31, 0.42, 0.47, 0.30,
    0.36, 0.48, 0.62, 0.29, 0.27, 0.39, 0.50, 0.34, 0.33, 0.41, 0.72, 0.32, 0.29, 0.36, 0.44, 0.31, 0.35, 0.43, 0.80, 0.34,
    0.30, 0.41, 0.52, 0.33, 0.38, 0.45, 0.26, 0.32, 0.64, 0.36, 0.33, 0.42, 0.46, 0.30, 0.92, 0.38, 0.28, 0.35, 0.55, 0.31,
    0.36, 0.44, 0.30, 0.39, 1.55, 0.34, 0.48, 0.41, 0.25, 0.31, 1.05, 0.37, 0.40, 0.33, 0.31, 0.45, 0.60, 0.34, 0.34, 0.40,
    0.44, 1.10, 0.36, 0.20, 0.30, 0.52, 0.39, 0.36, 0.96, 0.33, 0.29, 0.42, 0.46, 0.31, 0.33, 0.44, 0.70, 0.35, 1.00, 0.38,
    0.32, 0.45, 0.54, 0.30, 0.27, 0.37, 0.42, 0.33, 0.90, 0.41, 0.30, 0.35, 0.48, 0.32, 0.35, 1.05, 0.66, 0.36, 0.28, 0.40,
    0.46, 1.18, 0.34, 0.38, 0.50, 0.31, 0.31, 0.43, 0.88, 0.35, 0.34, 0.40, 0.45, 0.30, 0.29, 0.38, 0.60, 0.33, 0.92, 0.37,
    0.33, 0.42, 0.47, 0.30, 0.27, 0.39, 0.55, 0.36, 1.02, 0.34, 0.36, 0.41, 0.44, 0.31, 0.30, 0.37, 0.72, 0.35, 0.38, 0.42,
    0.40, 0.36, 0.52, 0.33, 0.28, 0.40, 0.46, 0.34, 0.57, 0.38, 1.30, 0.44, 0.35, 0.30, 0.40, 0.48, 0.33, 0.36, 1.52, 0.44]

kde_x = [[int_kde_x0, int_kde_x1, int_kde_x2, int_kde_x3],
         [home_kde_x0, home_kde_x1, home_kde_x2, home_kde_x3],
         [att_kde_x0, att_kde_x1, att_kde_x2, att_kde_x3],
         [def_kde_x0, def_kde_x1, def_kde_x2, def_kde_x3]]
kde_y = [[int_kde_y0, int_kde_y1, int_kde_y2, int_kde_y3],
         [home_kde_y0, home_kde_y1, home_kde_y2, home_kde_y3],
         [att_kde_y0, att_kde_y1, att_kde_y2, att_kde_y3],
         [def_kde_y0, def_kde_y1, def_kde_y2, def_kde_y3]]
traces = [[int_trace0, int_trace1, int_trace2, int_trace3],
          [home_trace0, home_trace1, home_trace2, home_trace3],
          [att_trace0, att_trace1, att_trace2, att_trace3],
          [def_trace0, def_trace1, def_trace2, def_trace3]]


def style_axis(ax, left_visible):
    for side in ["top", "right"]:
        ax.spines[side].set_visible(False)
    ax.spines["bottom"].set_color("#555555")
    ax.spines["bottom"].set_linewidth(1.0)
    if left_visible:
        ax.spines["left"].set_color("#555555")
        ax.spines["left"].set_linewidth(1.0)
    else:
        ax.spines["left"].set_visible(False)
        ax.set_yticks([])
    ax.tick_params(axis="both", colors="#262626", length=3, width=0.8)


def main():
    fig, axes = plt.subplots(4, 2, figsize=(12.115, 7.455), dpi=200)
    fig.subplots_adjust(left=0.018, right=0.9905, bottom=0.088, top=0.987,
                        wspace=0.142, hspace=0.543)

    for row, name in enumerate(var_names):
        ax_kde, ax_tr = axes[row]

        # left: per-chain density
        for c in range(4):
            ax_kde.plot(kde_x[row][c], kde_y[row][c], color=chain_colors[c], lw=1.7)
        style_axis(ax_kde, left_visible=False)
        ax_kde.xaxis.set_major_locator(MaxNLocator(7, steps=[1, 2, 2.5, 5, 10]))
        ax_kde.tick_params(axis="x", labelsize=13.5)
        ax_kde.set_xlabel(name, fontsize=13.5)

        # right: per-chain trace (thicker lines, the draws are dense)
        for c in range(4):
            vals = traces[row][c]
            draws = np.linspace(0, 999, len(vals))
            ax_tr.plot(draws, vals, color=chain_colors[c], lw=2.1 if c < 3 else 2.4)
        style_axis(ax_tr, left_visible=True)
        ax_tr.set_yticks(trace_yticks[row])
        ax_tr.tick_params(axis="x", labelsize=13.5)
        ax_tr.tick_params(axis="y", labelsize=12.5)
        ax_tr.set_xlabel("Draw", fontsize=13.5)
        ax_tr.set_ylabel(name, fontsize=13.5)

    fig.savefig("out.png", dpi=200)


if __name__ == "__main__":
    main()
